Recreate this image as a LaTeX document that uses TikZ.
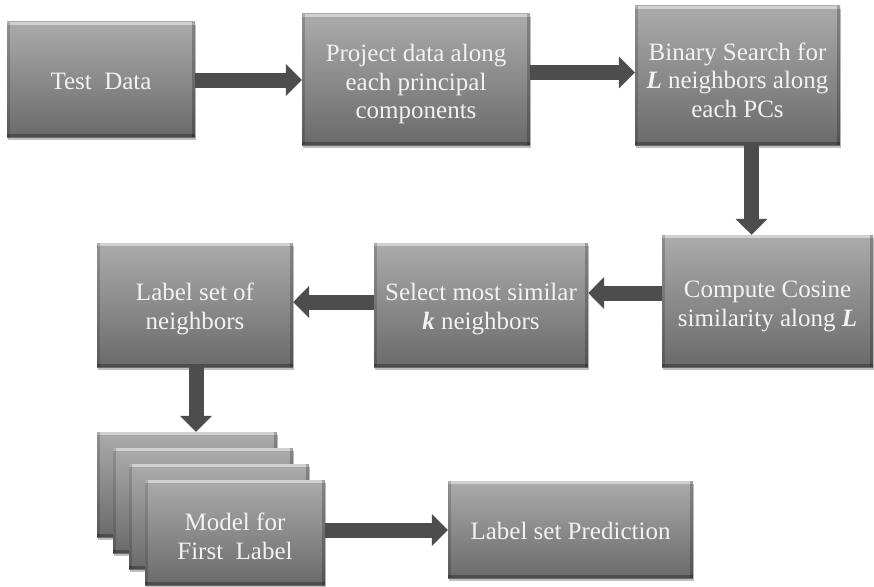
\documentclass[tikz,border=0pt]{standalone}
\usepackage{fontspec}
\setmainfont{Liberation Serif}
\usetikzlibrary{arrows.meta,shadows}
\definecolor{boxtop}{HTML}{ABABAB}
\definecolor{boxbot}{HTML}{6A6A6A}
\definecolor{arrowgray}{HTML}{4D4D4D}
\definecolor{textwhite}{HTML}{F2F2F2}
% invisible strut on a first line: lowers the text block a little in its box
\newcommand\cardstrut[1]{\rule{0pt}{#1}}
\begin{document}
\begin{tikzpicture}[x=1pt,y=-1pt,
  card/.style={rectangle, inner sep=0pt, align=center,
    top color=boxtop, bottom color=boxbot,
    text=textwhite, font=\fontsize{25}{28.5}\selectfont,
    drop shadow={shadow xshift=1pt, shadow yshift=-3pt, fill=black, opacity=.25},
    path picture={
      \fill[white,opacity=.45] (path picture bounding box.north west)
        rectangle ([yshift=-3pt]path picture bounding box.north east);
      \fill[black,opacity=.28] (path picture bounding box.south west)
        rectangle ([yshift=3pt]path picture bounding box.south east);
      \fill[black,opacity=.16] (path picture bounding box.north west)
        rectangle ([xshift=3pt]path picture bounding box.south west);
      \fill[black,opacity=.22] (path picture bounding box.north east)
        rectangle ([xshift=-3pt]path picture bounding box.south east);
    }},
  flow/.style={draw=arrowgray, line width=15pt,
    -{Triangle[length=16pt,width=31pt,fill=arrowgray]}}
]
\useasboundingbox (0,0) rectangle (874,586);

% top row
\node[card, minimum width=188pt, minimum height=115pt] (test) at (101,79.5)
  {\cardstrut{21pt}Test\ \ Data};
\node[card, minimum width=228pt, minimum height=131pt] (proj) at (416,79.5)
  {\cardstrut{27pt}Project data along\\each principal\\components};
\node[card, minimum width=205pt, minimum height=139pt] (bsearch) at (737.5,75.5)
  {\cardstrut{27pt}Binary Search for\\\textbf{\textit{L}} neighbors along\\each PCs};

% middle row
\node[card, minimum width=211pt, minimum height=132pt] (cosine) at (767.5,301)
  {\cardstrut{27pt}Compute Cosine\\similarity along \textbf{\textit{L}}};
\node[card, minimum width=214pt, minimum height=124pt] (select) at (481,305)
  {\cardstrut{25pt}Select most similar\\\textbf{\textit{k}} neighbors};
\node[card, minimum width=196pt, minimum height=124pt] (lset) at (195,305)
  {\cardstrut{25pt}Label set of\\neighbors};

% stack of per-label models, back to front
\node[card, minimum width=180pt, minimum height=105pt] (m1) at (187,484.5) {};
\node[card, minimum width=180pt, minimum height=105pt] (m2) at (203,500.5) {};
\node[card, minimum width=180pt, minimum height=105pt] (m3) at (219,516.5) {};
\node[card, minimum width=180pt, minimum height=105pt] (m4) at (235,532.5)
  {\cardstrut{25pt}Model for\\First\ \ Label};

\node[card, minimum width=245pt, minimum height=97pt] (pred) at (570.5,529.5)
  {\cardstrut{21pt}Label set Prediction};

% connectors
\draw[flow] ([yshift=-0.5pt]test.east) -- ([yshift=-0.5pt]test.east -| proj.west);
\draw[flow] ([yshift=7pt]proj.east) -- ([yshift=7pt]proj.east -| bsearch.west);
\draw[flow] ([xshift=14pt]bsearch.south) -- ([xshift=14pt]bsearch.south |- cosine.north);
\draw[flow] ([yshift=8pt]cosine.west) -- ([yshift=8pt]cosine.west -| select.east);
\draw[flow] ([yshift=3pt]select.west) -- ([yshift=3pt]select.west -| lset.east);
\draw[flow] ([xshift=1pt]lset.south) -- ([xshift=1pt]lset.south |- m1.north);
\draw[flow] ([yshift=2.5pt]m4.east) -- ([yshift=2.5pt]m4.east -| pred.west);
\end{tikzpicture}
\end{document}
